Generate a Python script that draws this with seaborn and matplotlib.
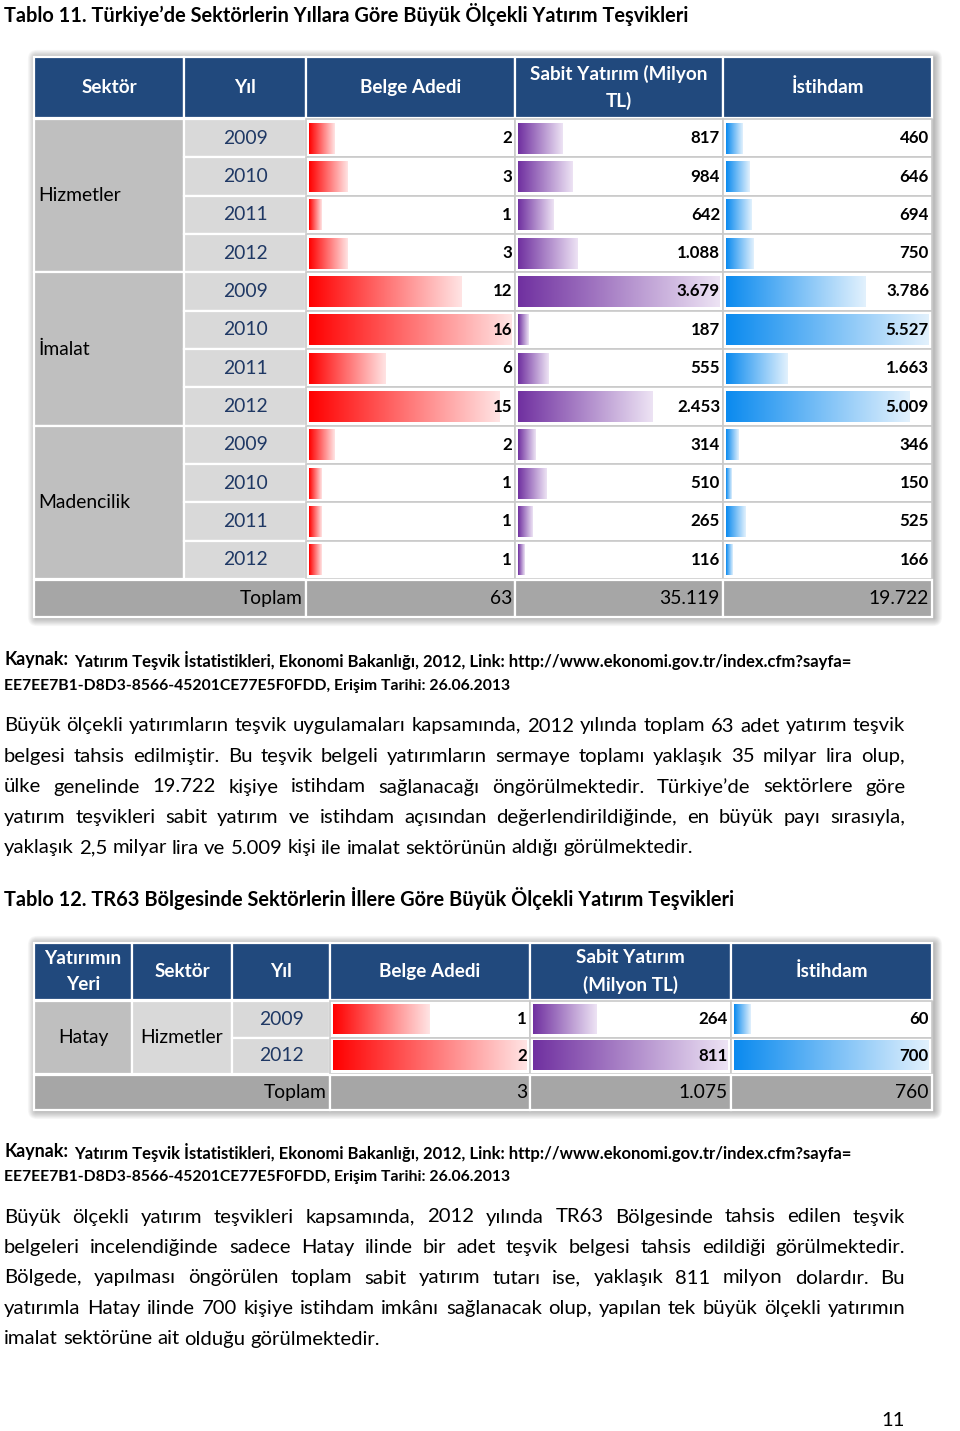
import numpy as np
import pandas as pd
import matplotlib
matplotlib.use("Agg")
import matplotlib.pyplot as plt
import seaborn as sns
from matplotlib.patches import Rectangle, FancyBboxPatch
from matplotlib.colors import LinearSegmentedColormap

# ---------------- data ----------------
sectors = ["Hizmetler", "İmalat", "Madencilik"]
years = ["2009", "2010", "2011", "2012"]
belge = [2, 3, 1, 3, 12, 16, 6, 15, 2, 1, 1, 1]
sabit = [817, 984, 642, 1088, 3679, 187, 555, 2453, 314, 510, 265, 116]
istihdam = [460, 646, 694, 750, 3786, 5527, 1663, 5009, 346, 150, 525, 166]
totals1 = [63, 35119, 19722]
headers1 = ["Sektör", "Yıl", "Belge Adedi", "Sabit Yatırım (Milyon\nTL)", "İstihdam"]

t2_place = "Hatay"
t2_sector = "Hizmetler"
t2_years = ["2009", "2012"]
t2_belge = [1, 2]
t2_sabit = [264, 811]
t2_istihdam = [60, 700]
totals2 = [3, 1075, 760]
headers2 = ["Yatırımın\nYeri", "Sektör", "Yıl", "Belge Adedi", "Sabit Yatırım\n(Milyon TL)", "İstihdam"]

title1 = "Tablo 11. Türkiye’de Sektörlerin Yıllara Göre Büyük Ölçekli Yatırım Teşvikleri"
title2 = "Tablo 12. TR63 Bölgesinde Sektörlerin İllere Göre Büyük Ölçekli Yatırım Teşvikleri"
src_a = "Kaynak:"
src_b = "Yatırım Teşvik İstatistikleri, Ekonomi Bakanlığı, 2012, Link: http://www.ekonomi.gov.tr/index.cfm?sayfa="
src_c = "EE7EE7B1-D8D3-8566-45201CE77E5F0FDD, Erişim Tarihi: 26.06.2013"
para1 = [
    "Büyük ölçekli yatırımların teşvik uygulamaları kapsamında, 2012 yılında toplam 63 adet yatırım teşvik",
    "belgesi tahsis edilmiştir. Bu teşvik belgeli yatırımların sermaye toplamı yaklaşık 35 milyar lira olup,",
    "ülke genelinde 19.722 kişiye istihdam sağlanacağı öngörülmektedir. Türkiye’de sektörlere göre",
    "yatırım teşvikleri sabit yatırım ve istihdam açısından değerlendirildiğinde, en büyük payı sırasıyla,",
    "yaklaşık 2,5 milyar lira ve 5.009 kişi ile imalat sektörünün aldığı görülmektedir.",
]
para2 = [
    "Büyük ölçekli yatırım teşvikleri kapsamında, 2012 yılında TR63 Bölgesinde tahsis edilen teşvik",
    "belgeleri incelendiğinde sadece Hatay ilinde bir adet teşvik belgesi tahsis edildiği görülmektedir.",
    "Bölgede, yapılması öngörülen toplam sabit yatırım tutarı ise, yaklaşık 811 milyon dolardır. Bu",
    "yatırımla Hatay ilinde 700 kişiye istihdam imkânı sağlanacak olup, yapılan tek büyük ölçekli yatırımın",
    "imalat sektörüne ait olduğu görülmektedir.",
]
page_no = "11"

# ---------------- style ----------------
sns.set_theme(style="white")
plt.rcParams["font.family"] = ["Lato", "DejaVu Sans"]

W, H = 960, 1431
HEAD = "#21497D"
SEC = "#BFBFBF"
YR = "#D9D9D9"
TOT = "#A6A6A6"
YRTXT = "#1F3864"
RED = ("#FF0000", "#FFE4E4")
PUR = ("#7030A0", "#EDE3F4")
BLU = ("#0A8AEF", "#E2F1FD")

fig = plt.figure(figsize=(W / 100, H / 100), dpi=100)
fig.patch.set_facecolor("white")
bg = fig.add_axes([0, 0, 1, 1])
bg.set_xlim(0, W)
bg.set_ylim(H, 0)
bg.axis("off")
bg.set_zorder(0)
top = fig.add_axes([0, 0, 1, 1])
top.set_xlim(0, W)
top.set_ylim(H, 0)
top.axis("off")
top.patch.set_alpha(0)
top.set_zorder(5)
renderer = fig.canvas.get_renderer()


def fmt(v):
    return f"{v:,}".replace(",", ".")


def fit_size(s, target, weight="normal"):
    t = bg.text(0, 0, s, fontsize=10, fontweight=weight)
    w = t.get_window_extent(renderer=renderer).width
    t.remove()
    return 10 * target / w


def px2fig(x0, y0, x1, y1):
    return [x0 / W, 1 - y1 / H, (x1 - x0) / W, (y1 - y0) / H]


def cell(x0, y0, x1, y1, fc, ec="white", lw=1.6):
    bg.add_patch(Rectangle((x0, y0), x1 - x0, y1 - y0, facecolor=fc, edgecolor=ec, linewidth=lw, zorder=3))


def shadow(x0, y0, x1, y1):
    for i in range(1, 10):
        bg.add_patch(FancyBboxPatch((x0 + 2, y0 + 1), x1 - x0, y1 - y0,
                                    boxstyle=f"round,pad={i*0.9},rounding_size={i}",
                                    facecolor="black", edgecolor="none", alpha=0.03, zorder=1))


def justify(lines, y0, dy, x0, x1, size):
    sp = size * 100 / 72 * 0.25
    for k, line in enumerate(lines):
        y = y0 + k * dy
        words = line.split(" ")
        arts = [bg.text(0, y, w_, fontsize=size, va="center", ha="left", color="black", zorder=4) for w_ in words]
        widths = [a.get_window_extent(renderer=renderer).width for a in arts]
        if k == len(lines) - 1:
            gap = sp
        else:
            gap = (x1 - x0 - sum(widths)) / (len(words) - 1)
        x = x0
        for a, w_ in zip(arts, widths):
            a.set_x(x)
            x += w_ + gap


def bar_column(ids, vals, xl, xr, yt, yb, colors):
    ax = fig.add_axes(px2fig(xl, yt, xr, yb))
    ax.set_zorder(2)
    df = pd.DataFrame({"id": ids, "v": vals})
    sns.barplot(data=df, x="v", y="id", orient="h", order=ids, ax=ax, color=colors[0],
                width=0.8, saturation=1, linewidth=0)
    cmap = LinearSegmentedColormap.from_list("g", list(colors))
    grad = np.linspace(0, 1, 256).reshape(1, -1)
    for p in list(ax.patches):
        x, y, w_, h_ = p.get_x(), p.get_y(), p.get_width(), p.get_height()
        ax.imshow(grad, extent=(x, x + w_, y + h_, y), cmap=cmap, aspect="auto",
                  interpolation="bilinear", zorder=3)
        p.set_facecolor("none")
    ax.set_xlim(0, max(vals))
    ax.set_ylim(len(ids) - 0.5, -0.5)
    ax.set_aspect("auto")
    ax.axis("off")
    ax.patch.set_alpha(0)
    return ax


# font sizes fitted to the reference widths
fs_cell = fit_size("Madencilik", 92)
fs_head = fit_size("Belge Adedi", 102, "bold")
fs_num = fit_size("3.679", 43, "bold")
fs_body = fit_size(para1[-1], 691)
fs_t1 = fit_size(title1, 689, "bold")
fs_t2 = fit_size(title2, 733, "bold")
fs_src = fit_size(src_c, 504, "bold")
fs_srcb = fit_size(src_b, 782, "bold")
fs_kay = fit_size(src_a, 64, "bold")

# ---------------- titles & text ----------------
bg.text(4, 14, title1, fontsize=fs_t1, fontweight="bold", va="center", ha="left", color="black")
bg.text(4, 898, title2, fontsize=fs_t2, fontweight="bold", va="center", ha="left", color="black")

for ys in (660, 1151):
    bg.text(4, ys, src_a, fontsize=fs_kay, fontweight="bold", va="center", ha="left", color="black")
    bg.text(74, ys + 1, src_b, fontsize=fs_srcb, fontweight="bold", va="center", ha="left", color="black")
    bg.text(4, ys + 26, src_c, fontsize=fs_src, fontweight="bold", va="center", ha="left", color="black")

justify(para1, 726, 30.5, 4, 905, fs_body)
justify(para2, 1217, 30.5, 4, 905, fs_body)
bg.text(893, 1421, page_no, fontsize=fs_body, va="center", ha="center", color="black")

# ---------------- table 11 ----------------
c1 = [34, 184, 306, 515, 723, 932]
hy0, hy1 = 57, 118
ry0, ry1 = 119, 579
ty0, ty1 = 580, 617
n = len(belge)
rh = (ry1 - ry0) / n
shadow(c1[0], hy0, c1[-1], ty1)
for j in range(5):
    cell(c1[j], hy0, c1[j + 1], hy1, HEAD)
    bg.text((c1[j] + c1[j + 1]) / 2, (hy0 + hy1) / 2, headers1[j], fontsize=fs_head, fontweight="bold",
            color="white", ha="center", va="center", linespacing=1.6, zorder=4)
for g, sname in enumerate(sectors):
    ya, yb = ry0 + 4 * g * rh, ry0 + 4 * (g + 1) * rh
    cell(c1[0], ya, c1[1], yb, SEC)
    bg.text(c1[0] + 4, (ya + yb) / 2, sname, fontsize=fs_cell, ha="left", va="center", color="black", zorder=4)
for i in range(n):
    ya, yb = ry0 + i * rh, ry0 + (i + 1) * rh
    cell(c1[1], ya, c1[2], yb, YR)
    bg.text((c1[1] + c1[2]) / 2, (ya + yb) / 2, years[i % 4], fontsize=fs_cell, ha="center", va="center",
            color=YRTXT, zorder=4)
    for j in range(2, 5):
        cell(c1[j], ya, c1[j + 1], yb, "white", ec="#CACACA", lw=1.2)
    for j, vals in zip(range(2, 5), (belge, sabit, istihdam)):
        top.text(c1[j + 1] - 3, (ya + yb) / 2, fmt(vals[i]), fontsize=fs_num, fontweight="bold",
                 ha="right", va="center", color="black")
cell(c1[0], ty0, c1[2], ty1, TOT)
bg.text(c1[2] - 3, (ty0 + ty1) / 2, "Toplam", fontsize=fs_cell, ha="right", va="center", color="black", zorder=4)
for j, v in zip(range(2, 5), totals1):
    cell(c1[j], ty0, c1[j + 1], ty1, TOT)
    bg.text(c1[j + 1] - 3, (ty0 + ty1) / 2, fmt(v), fontsize=fs_cell, ha="right", va="center",
            color="black", zorder=4)

ids1 = [f"{s} {y}" for s in sectors for y in years]
for j, vals, col in zip(range(2, 5), (belge, sabit, istihdam), (RED, PUR, BLU)):
    bar_column(ids1, vals, c1[j] + 3, c1[j + 1] - 3, ry0, ry1, col)

# ---------------- table 12 ----------------
c2 = [34, 132, 232, 330, 530, 731, 932]
hy0, hy1 = 943, 1000
ry0, ry1 = 1001, 1074
ty0, ty1 = 1075, 1110
m = len(t2_years)
rh = (ry1 - ry0) / m
shadow(c2[0], hy0, c2[-1], ty1)
for j in range(6):
    cell(c2[j], hy0, c2[j + 1], hy1, HEAD)
    bg.text((c2[j] + c2[j + 1]) / 2, (hy0 + hy1) / 2, headers2[j], fontsize=fs_head, fontweight="bold",
            color="white", ha="center", va="center", linespacing=1.6, zorder=4)
cell(c2[0], ry0, c2[1], ry1, SEC)
bg.text((c2[0] + c2[1]) / 2, (ry0 + ry1) / 2, t2_place, fontsize=fs_cell, ha="center", va="center",
        color="black", zorder=4)
cell(c2[1], ry0, c2[2], ry1, YR)
bg.text((c2[1] + c2[2]) / 2, (ry0 + ry1) / 2, t2_sector, fontsize=fs_cell, ha="center", va="center",
        color="black", zorder=4)
for i in range(m):
    ya, yb = ry0 + i * rh, ry0 + (i + 1) * rh
    cell(c2[2], ya, c2[3], yb, YR)
    bg.text((c2[2] + c2[3]) / 2, (ya + yb) / 2, t2_years[i], fontsize=fs_cell, ha="center", va="center",
            color=YRTXT, zorder=4)
    for j in range(3, 6):
        cell(c2[j], ya, c2[j + 1], yb, "white", ec="#CACACA", lw=1.2)
    for j, vals in zip(range(3, 6), (t2_belge, t2_sabit, t2_istihdam)):
        top.text(c2[j + 1] - 3, (ya + yb) / 2, fmt(vals[i]), fontsize=fs_num, fontweight="bold",
                 ha="right", va="center", color="black")
cell(c2[0], ty0, c2[3], ty1, TOT)
bg.text(c2[3] - 3, (ty0 + ty1) / 2, "Toplam", fontsize=fs_cell, ha="right", va="center", color="black", zorder=4)
for j, v in zip(range(3, 6), totals2):
    cell(c2[j], ty0, c2[j + 1], ty1, TOT)
    bg.text(c2[j + 1] - 3, (ty0 + ty1) / 2, fmt(v), fontsize=fs_cell, ha="right", va="center",
            color="black", zorder=4)

ids2 = [f"{t2_place} {y}" for y in t2_years]
for j, vals, col in zip(range(3, 6), (t2_belge, t2_sabit, t2_istihdam), (RED, PUR, BLU)):
    bar_column(ids2, vals, c2[j] + 3, c2[j + 1] - 3, ry0, ry1, col)

fig.savefig("out.png", dpi=100, facecolor="white")
